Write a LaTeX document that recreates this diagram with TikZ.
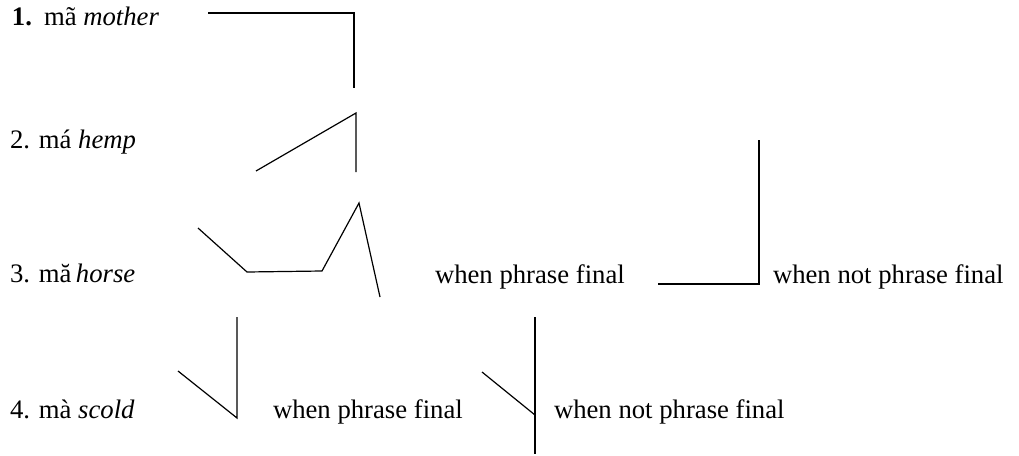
\documentclass[tikz,border=0pt]{standalone}
\usepackage{fontspec}
\setmainfont{Liberation Serif}
\begin{document}
\begin{tikzpicture}[x=1pt,y=-1pt,
  lbl/.style={anchor=base west,inner sep=0pt,outer sep=0pt,font=\fontsize{26.7}{30}\selectfont},
  contour/.style={line width=1.2pt,line join=miter,line cap=butt}]
\useasboundingbox (0,0) rectangle (1019,455);
% labels
\node[lbl] (t1) at (12,25) {\textbf{1.}\hspace{0.45em}mã \textit{mother}};
\node[lbl] (t2) at (10,148) {2. má \textit{hemp}};
\node[lbl] (t3) at (10,282) {3. mă\,\textit{horse}};
\node[lbl] (t3a) at (435,283) {when phrase final};
\node[lbl] (t3b) at (773,283) {when not phrase final};
\node[lbl] (t4) at (10,418) {4. mà \textit{scold}};
\node[lbl] (t4a) at (273,418) {when phrase final};
\node[lbl] (t4b) at (554,418) {when not phrase final};
% tone contours
\draw[contour] (208,13) -- (354,13) -- (354,88);
\draw[contour] (256,171) -- (356,113) -- (356,172);
\draw[contour] (198,228) -- (247,272) -- (322,271) -- (359,203) -- (380,297);
\draw[contour] (658,284) -- (759,284) -- (759,140);
\draw[contour] (178,371) -- (237,418) -- (237,317);
\draw[contour] (482,372) -- (535,415);
\draw[contour] (535,317) -- (535,454);
\end{tikzpicture}
\end{document}
